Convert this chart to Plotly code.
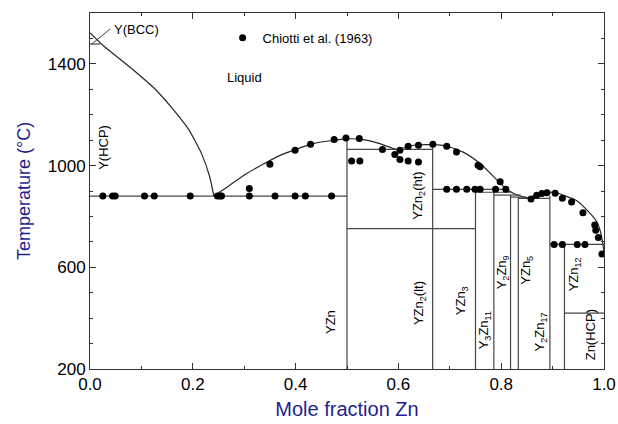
import plotly.graph_objects as go

# ---------------- data ----------------
# Liquidus, Y-rich side (x = mole fraction Zn, T in °C)
liq_left_x = [0.0, 0.029, 0.061, 0.093, 0.126, 0.158, 0.191, 0.217, 0.233, 0.241]
liq_left_T = [1522, 1466, 1414, 1361, 1302, 1230, 1145, 1047, 955, 880]

# Liquidus, Zn-rich side
liq_right_x = [0.241, 0.272, 0.305, 0.370, 0.434, 0.500, 0.532, 0.564, 0.597,
               0.629, 0.667, 0.694, 0.726, 0.759, 0.791, 0.811, 0.830, 0.856,
               0.869, 0.888, 0.908, 0.925, 0.947, 0.973, 0.986, 0.994, 1.0]
liq_right_T = [880, 923, 969, 1040, 1086, 1105, 1102, 1086, 1064,
               1080, 1082, 1076, 1053, 1008, 945, 906, 885, 872,
               888, 895, 893, 880, 862, 812, 779, 733, 660]

# Stoichiometric compounds (vertical lines from 200 °C up to their top temperature)
comp_x = [1 / 2, 2 / 3, 3 / 4, 11 / 14, 9 / 11, 5 / 6, 17 / 19, 12 / 13]
comp_top = [1105, 1082, 906, 895, 884, 876, 880, 690]
comp_bottom = 200

# Invariant / transition horizontal lines
inv_x0 = [0.0, 0.0, 0.5, 0.5, 2 / 3, 3 / 4, 11 / 14, 9 / 11, 5 / 6, 17 / 19, 12 / 13]
inv_x1 = [0.02, 0.5, 2 / 3, 3 / 4, 0.811, 0.822, 0.838, 0.848, 17 / 19, 1.0, 1.0]
inv_T = [1478, 880, 1064, 752, 906, 895, 884, 876, 871, 690, 420]

# Leader line for the Y(BCC) label
leader_x = [0.003, 0.039]
leader_T = [1477, 1537]

# Experimental points, Chiotti et al. (1963)
exp_x = [0.025, 0.044, 0.049, 0.106, 0.125, 0.195, 0.248, 0.253, 0.256, 0.310,
         0.360, 0.399, 0.419, 0.470,
         0.310, 0.350, 0.399, 0.429, 0.475, 0.498, 0.524, 0.509, 0.525,
         0.569, 0.593, 0.603, 0.603, 0.619, 0.619, 0.639, 0.639, 0.667,
         0.694, 0.713, 0.755, 0.759, 0.798,
         0.694, 0.713, 0.733, 0.749, 0.759, 0.789, 0.809,
         0.858, 0.869, 0.879, 0.889, 0.905, 0.919, 0.937, 0.959, 0.982,
         0.984, 0.989,
         0.903, 0.919, 0.948, 0.963, 0.996]
exp_T = [880, 880, 880, 880, 880, 880, 880, 880, 880, 880,
         880, 880, 880, 880,
         910, 1005, 1060, 1084, 1103, 1108, 1106, 1018, 1018,
         1063, 1044, 1060, 1024, 1076, 1018, 1080, 1014, 1084,
         1076, 1053, 1001, 995, 936,
         907, 907, 907, 907, 907, 907, 907,
         869, 883, 890, 893, 891, 871, 857, 814, 766,
         746, 717,
         690, 690, 690, 690, 652]

# Phase labels
lab_text = ["Liquid", "Y(HCP)", "YZn", "YZn<sub>2</sub>(ht)", "YZn<sub>2</sub>(lt)",
            "YZn<sub>3</sub>", "Y<sub>3</sub>Zn<sub>11</sub>", "Y<sub>2</sub>Zn<sub>9</sub>",
            "YZn<sub>5</sub>", "Y<sub>2</sub>Zn<sub>17</sub>", "YZn<sub>12</sub>", "Zn(HCP)"]
lab_x = [0.301, 0.025, 0.469, 0.639, 0.640, 0.722, 0.767, 0.802, 0.849, 0.876, 0.942, 0.973]
lab_T = [1348, 1073, 385, 883, 459, 467, 353, 581, 588, 345, 573, 333]
lab_angle = [0, -90, -90, -90, -90, -90, -90, -90, -90, -90, -90, -90]

# ---------------- figure ----------------
LINE = "#262626"
FONT = "Liberation Sans, Arial, Helvetica, sans-serif"
TITLE_C = "#1f1f8f"

fig = go.Figure()

fig.add_trace(go.Scatter(x=liq_left_x, y=liq_left_T, mode="lines",
                         line=dict(color=LINE, width=1.2, shape="spline", smoothing=0.5),
                         showlegend=False, hoverinfo="skip"))
fig.add_trace(go.Scatter(x=liq_right_x, y=liq_right_T, mode="lines",
                         line=dict(color=LINE, width=1.2, shape="spline", smoothing=0.6),
                         showlegend=False, hoverinfo="skip"))

vx, vy = [], []
for cx, top in zip(comp_x, comp_top):
    vx += [cx, cx, None]
    vy += [comp_bottom, top, None]
fig.add_trace(go.Scatter(x=vx, y=vy, mode="lines", line=dict(color="#444", width=1.2),
                         showlegend=False, hoverinfo="skip"))

hx, hy = [], []
for a, b, t in zip(inv_x0, inv_x1, inv_T):
    hx += [a, b, None]
    hy += [t, t, None]
fig.add_trace(go.Scatter(x=hx, y=hy, mode="lines", line=dict(color="#444", width=1.2),
                         showlegend=False, hoverinfo="skip"))

fig.add_trace(go.Scatter(x=leader_x, y=leader_T, mode="lines", line=dict(color="#444", width=1),
                         showlegend=False, hoverinfo="skip"))

fig.add_trace(go.Scatter(x=exp_x, y=exp_T, mode="markers", name="Chiotti et al. (1963)",
                         marker=dict(color="black", size=7), showlegend=True))

for t, x, y, ang in zip(lab_text, lab_x, lab_T, lab_angle):
    fig.add_annotation(x=x, y=y, text=t, textangle=ang, showarrow=False,
                       font=dict(family=FONT, size=13, color="black"))

fig.add_annotation(x=0.042, y=1537, text="Y(BCC)", showarrow=False, xanchor="left",
                   font=dict(family=FONT, size=13, color="black"))

axis_common = dict(showline=True, linecolor="#333", linewidth=1, mirror="ticks",
                   ticks="inside", ticklen=6, tickcolor="#333", showgrid=False, zeroline=False,
                   automargin=False,
                   tickfont=dict(family=FONT, size=17, color="black"))

fig.update_xaxes(range=[0, 1], tick0=0, dtick=0.2, tickformat=".1f",
                 minor=dict(dtick=0.1, ticks="inside", ticklen=3, tickcolor="#333"),
                 title=dict(text="Mole fraction Zn", font=dict(family=FONT, size=20, color=TITLE_C),
                            standoff=8),
                 **axis_common)
fig.update_yaxes(range=[200, 1600], tick0=200, dtick=400,
                 minor=dict(dtick=100, ticks="inside", ticklen=3, tickcolor="#333"),
                 title=dict(text="Temperature (°C)", font=dict(family=FONT, size=18, color=TITLE_C),
                            standoff=12),
                 **axis_common)

fig.update_layout(width=618, height=424, margin=dict(l=90, r=14, t=13, b=55),
                  plot_bgcolor="white", paper_bgcolor="white",
                  font=dict(family=FONT),
                  legend=dict(x=0.258, y=0.93, xanchor="left", yanchor="middle",
                              bgcolor="rgba(0,0,0,0)", borderwidth=0,
                              font=dict(family=FONT, size=13, color="black")))

fig.write_html("out.html")
